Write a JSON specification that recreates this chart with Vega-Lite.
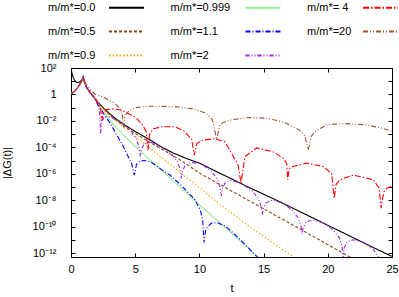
{
  "$schema": "https://vega.github.io/schema/vega-lite/v6.json",
  "width": 321,
  "height": 189,
  "autosize": {"type": "none"},
  "padding": {"left": 71, "top": 68, "right": 7, "bottom": 40},
  "background": "white",
  "config": {
    "view": {"stroke": "black", "strokeWidth": 1},
    "font": "Liberation Sans",
    "axis": {"grid": false, "domain": false, "tickColor": "black", "labelColor": "black", "titleColor": "black", "labelFontSize": 11, "titleFontSize": 11, "titleFontWeight": "normal", "labelFont": "Liberation Sans", "titleFont": "Liberation Sans", "labelFlush": false, "labelOverlap": false}
  },
  "datasets": {
    "d": [
      {"s":"m/m*=0.0","t":0,"y":89.1},{"s":"m/m*=0.0","t":0.08,"y":39.8},{"s":"m/m*=0.0","t":0.16,"y":20},{"s":"m/m*=0.0","t":0.3,"y":11.2},{"s":"m/m*=0.0","t":0.45,"y":7.94},{"s":"m/m*=0.0","t":0.6,"y":7.94},{"s":"m/m*=0.0","t":0.75,"y":10},{"s":"m/m*=0.0","t":0.88,"y":15.8},{"s":"m/m*=0.0","t":0.95,"y":21},{"s":"m/m*=0.0","t":1.05,"y":8.91},{"s":"m/m*=0.0","t":1.2,"y":3.55},{"s":"m/m*=0.0","t":1.5,"y":1.32},{"s":"m/m*=0.0","t":1.8,"y":0.6},{"s":"m/m*=0.0","t":2.1,"y":0.251},{"s":"m/m*=0.0","t":2.65,"y":0.0708},{"s":"m/m*=0.0","t":3,"y":0.0355},{"s":"m/m*=0.0","t":3.5,"y":0.0141},{"s":"m/m*=0.0","t":4,"y":0.00631},{"s":"m/m*=0.0","t":5,"y":0.00158},{"s":"m/m*=0.0","t":6,"y":4.47e-4},{"s":"m/m*=0.0","t":7,"y":1.12e-4},{"s":"m/m*=0.0","t":8,"y":3.55e-5},{"s":"m/m*=0.0","t":9,"y":1.41e-5},{"s":"m/m*=0.0","t":10,"y":6.31e-6},{"s":"m/m*=0.0","t":12,"y":7.08e-7},{"s":"m/m*=0.0","t":14,"y":7.94e-8},{"s":"m/m*=0.0","t":16,"y":1e-8},{"s":"m/m*=0.0","t":18,"y":1.12e-9},{"s":"m/m*=0.0","t":20,"y":1.26e-10},{"s":"m/m*=0.0","t":22,"y":1.41e-11},{"s":"m/m*=0.0","t":24,"y":1.58e-12},{"s":"m/m*=0.0","t":25,"y":5.62e-13},

      {"s":"m/m*=0.5","t":0,"y":1.12},{"s":"m/m*=0.5","t":0.3,"y":1.78},{"s":"m/m*=0.5","t":0.55,"y":3.55},{"s":"m/m*=0.5","t":0.8,"y":8.91},{"s":"m/m*=0.5","t":0.95,"y":21},{"s":"m/m*=0.5","t":1.05,"y":8.91},{"s":"m/m*=0.5","t":1.2,"y":3.55},{"s":"m/m*=0.5","t":1.5,"y":1.32},{"s":"m/m*=0.5","t":1.8,"y":0.6},{"s":"m/m*=0.5","t":2.1,"y":0.251},{"s":"m/m*=0.5","t":2.5,"y":0.1},{"s":"m/m*=0.5","t":3,"y":0.0282},{"s":"m/m*=0.5","t":4,"y":0.00501},{"s":"m/m*=0.5","t":5,"y":0.00112},{"s":"m/m*=0.5","t":6,"y":2.82e-4},{"s":"m/m*=0.5","t":7,"y":7.94e-5},{"s":"m/m*=0.5","t":8.5,"y":1.12e-5},{"s":"m/m*=0.5","t":10,"y":1.12e-6},{"s":"m/m*=0.5","t":12.4,"y":5.62e-8},{"s":"m/m*=0.5","t":15,"y":2.24e-9},{"s":"m/m*=0.5","t":17.5,"y":1e-10},{"s":"m/m*=0.5","t":20.8,"y":1.58e-12},{"s":"m/m*=0.5","t":22,"y":3.55e-13},

      {"s":"m/m*=0.9","t":0,"y":1.12},{"s":"m/m*=0.9","t":0.3,"y":1.78},{"s":"m/m*=0.9","t":0.55,"y":3.55},{"s":"m/m*=0.9","t":0.8,"y":8.91},{"s":"m/m*=0.9","t":0.95,"y":21},{"s":"m/m*=0.9","t":1.05,"y":8.91},{"s":"m/m*=0.9","t":1.2,"y":3.55},{"s":"m/m*=0.9","t":1.5,"y":1.32},{"s":"m/m*=0.9","t":1.8,"y":0.6},{"s":"m/m*=0.9","t":2.1,"y":0.2},{"s":"m/m*=0.9","t":2.5,"y":0.0708},{"s":"m/m*=0.9","t":3,"y":0.0251},{"s":"m/m*=0.9","t":4,"y":0.00398},{"s":"m/m*=0.9","t":5,"y":6.31e-4},{"s":"m/m*=0.9","t":6,"y":1.12e-4},{"s":"m/m*=0.9","t":7,"y":1.78e-5},{"s":"m/m*=0.9","t":8,"y":3.16e-6},{"s":"m/m*=0.9","t":9,"y":5.01e-7},{"s":"m/m*=0.9","t":10,"y":8.91e-8},{"s":"m/m*=0.9","t":11,"y":1.41e-8},{"s":"m/m*=0.9","t":12.4,"y":1.26e-9},{"s":"m/m*=0.9","t":13.5,"y":2e-10},{"s":"m/m*=0.9","t":14.5,"y":3.98e-11},{"s":"m/m*=0.9","t":15.4,"y":1e-11},{"s":"m/m*=0.9","t":16.5,"y":1.78e-12},{"s":"m/m*=0.9","t":17.5,"y":3.98e-13},

      {"s":"m/m*=0.999","t":0,"y":1.12},{"s":"m/m*=0.999","t":0.3,"y":1.78},{"s":"m/m*=0.999","t":0.55,"y":3.55},{"s":"m/m*=0.999","t":0.8,"y":8.91},{"s":"m/m*=0.999","t":0.95,"y":21},{"s":"m/m*=0.999","t":1.05,"y":8.91},{"s":"m/m*=0.999","t":1.2,"y":3.55},{"s":"m/m*=0.999","t":1.5,"y":1.32},{"s":"m/m*=0.999","t":1.8,"y":0.6},{"s":"m/m*=0.999","t":2.1,"y":0.178},{"s":"m/m*=0.999","t":2.5,"y":0.0501},{"s":"m/m*=0.999","t":3,"y":0.0126},{"s":"m/m*=0.999","t":3.5,"y":0.00316},{"s":"m/m*=0.999","t":5,"y":1.12e-4},{"s":"m/m*=0.999","t":7,"y":2e-6},{"s":"m/m*=0.999","t":9,"y":3.55e-8},{"s":"m/m*=0.999","t":10,"y":4.47e-9},{"s":"m/m*=0.999","t":12.4,"y":3.98e-11},{"s":"m/m*=0.999","t":14,"y":1.58e-12},{"s":"m/m*=0.999","t":14.7,"y":3.98e-13},

      {"s":"m/m*=1.1","t":0,"y":1.12},{"s":"m/m*=1.1","t":0.3,"y":1.78},{"s":"m/m*=1.1","t":0.55,"y":3.55},{"s":"m/m*=1.1","t":0.8,"y":8.91},{"s":"m/m*=1.1","t":0.95,"y":21},{"s":"m/m*=1.1","t":1.05,"y":8.91},{"s":"m/m*=1.1","t":1.2,"y":3.55},{"s":"m/m*=1.1","t":1.5,"y":1.32},{"s":"m/m*=1.1","t":1.8,"y":0.6},{"s":"m/m*=1.1","t":2.1,"y":0.158},{"s":"m/m*=1.1","t":2.5,"y":0.0398},{"s":"m/m*=1.1","t":3,"y":0.00794},{"s":"m/m*=1.1","t":3.5,"y":0.00112},{"s":"m/m*=1.1","t":4,"y":1.58e-4},{"s":"m/m*=1.1","t":4.4,"y":2.51e-5},{"s":"m/m*=1.1","t":4.7,"y":7.08e-6},{"s":"m/m*=1.1","t":4.93,"y":7.94e-7},{"s":"m/m*=1.1","t":5.1,"y":5.01e-6},{"s":"m/m*=1.1","t":5.35,"y":8.91e-6},{"s":"m/m*=1.1","t":5.7,"y":1e-5},{"s":"m/m*=1.1","t":6.2,"y":7.94e-6},{"s":"m/m*=1.1","t":7,"y":2.24e-6},{"s":"m/m*=1.1","t":7.7,"y":7.94e-7},{"s":"m/m*=1.1","t":8.6,"y":1.26e-7},{"s":"m/m*=1.1","t":9.6,"y":1.26e-8},{"s":"m/m*=1.1","t":10.05,"y":2e-9},{"s":"m/m*=1.1","t":10.25,"y":3.98e-10},{"s":"m/m*=1.1","t":10.36,"y":6.31e-12},{"s":"m/m*=1.1","t":10.5,"y":6.31e-11},{"s":"m/m*=1.1","t":10.9,"y":1.78e-10},{"s":"m/m*=1.1","t":11.4,"y":2e-10},{"s":"m/m*=1.1","t":12,"y":1.12e-10},{"s":"m/m*=1.1","t":12.6,"y":3.55e-11},{"s":"m/m*=1.1","t":13.3,"y":7.94e-12},{"s":"m/m*=1.1","t":13.95,"y":1.78e-12},{"s":"m/m*=1.1","t":14.6,"y":3.98e-13},

      {"s":"m/m*=2","t":0,"y":1.12},{"s":"m/m*=2","t":0.3,"y":1.78},{"s":"m/m*=2","t":0.55,"y":3.55},{"s":"m/m*=2","t":0.8,"y":8.91},{"s":"m/m*=2","t":0.95,"y":21},{"s":"m/m*=2","t":1.05,"y":8.91},{"s":"m/m*=2","t":1.2,"y":3.55},{"s":"m/m*=2","t":1.5,"y":1.32},{"s":"m/m*=2","t":1.8,"y":0.6},{"s":"m/m*=2","t":2,"y":0.282},{"s":"m/m*=2","t":2.15,"y":0.112},{"s":"m/m*=2","t":2.25,"y":0.0251},{"s":"m/m*=2","t":2.3,"y":0.001},{"s":"m/m*=2","t":2.38,"y":0.00891},{"s":"m/m*=2","t":2.6,"y":0.02},{"s":"m/m*=2","t":3.08,"y":0.02},{"s":"m/m*=2","t":3.85,"y":0.00794},{"s":"m/m*=2","t":4.62,"y":0.002},{"s":"m/m*=2","t":5.1,"y":3.98e-4},{"s":"m/m*=2","t":5.32,"y":7.94e-5},{"s":"m/m*=2","t":5.4,"y":2e-5},{"s":"m/m*=2","t":5.48,"y":7.08e-5},{"s":"m/m*=2","t":5.7,"y":1.78e-4},{"s":"m/m*=2","t":6.18,"y":2.51e-4},{"s":"m/m*=2","t":7,"y":1.12e-4},{"s":"m/m*=2","t":7.82,"y":3.16e-5},{"s":"m/m*=2","t":8.3,"y":7.94e-6},{"s":"m/m*=2","t":8.52,"y":1.78e-6},{"s":"m/m*=2","t":8.6,"y":4.47e-7},{"s":"m/m*=2","t":8.68,"y":1.58e-6},{"s":"m/m*=2","t":8.9,"y":4.47e-6},{"s":"m/m*=2","t":9.38,"y":7.08e-6},{"s":"m/m*=2","t":10.15,"y":5.62e-6},{"s":"m/m*=2","t":10.92,"y":1.58e-6},{"s":"m/m*=2","t":11.4,"y":3.98e-7},{"s":"m/m*=2","t":11.62,"y":8.91e-8},{"s":"m/m*=2","t":11.7,"y":2e-8},{"s":"m/m*=2","t":11.78,"y":7.08e-8},{"s":"m/m*=2","t":12,"y":2e-7},{"s":"m/m*=2","t":12.48,"y":3.16e-7},{"s":"m/m*=2","t":13.3,"y":1.78e-7},{"s":"m/m*=2","t":14.12,"y":5.01e-8},{"s":"m/m*=2","t":14.6,"y":1.26e-8},{"s":"m/m*=2","t":14.82,"y":2.82e-9},{"s":"m/m*=2","t":14.9,"y":7.94e-10},{"s":"m/m*=2","t":14.98,"y":2.24e-9},{"s":"m/m*=2","t":15.2,"y":6.31e-9},{"s":"m/m*=2","t":15.68,"y":1e-8},{"s":"m/m*=2","t":16.45,"y":6.31e-9},{"s":"m/m*=2","t":17.22,"y":1.78e-9},{"s":"m/m*=2","t":17.7,"y":4.47e-10},{"s":"m/m*=2","t":17.92,"y":1e-10},{"s":"m/m*=2","t":18,"y":2.51e-11},{"s":"m/m*=2","t":18.08,"y":7.94e-11},{"s":"m/m*=2","t":18.3,"y":2.24e-10},{"s":"m/m*=2","t":18.78,"y":3.16e-10},{"s":"m/m*=2","t":19.6,"y":2e-10},{"s":"m/m*=2","t":20.42,"y":5.62e-11},{"s":"m/m*=2","t":20.9,"y":1.41e-11},{"s":"m/m*=2","t":21.12,"y":2.82e-12},{"s":"m/m*=2","t":21.2,"y":3.16e-13},{"s":"m/m*=2","t":21.28,"y":2.51e-12},{"s":"m/m*=2","t":21.5,"y":7.08e-12},{"s":"m/m*=2","t":21.98,"y":1e-11},{"s":"m/m*=2","t":22.75,"y":7.08e-12},{"s":"m/m*=2","t":23.52,"y":2e-12},{"s":"m/m*=2","t":24,"y":4.47e-13},{"s":"m/m*=2","t":24.22,"y":1e-13},

      {"s":"m/m*= 4","t":0,"y":1.12},{"s":"m/m*= 4","t":0.3,"y":1.78},{"s":"m/m*= 4","t":0.55,"y":3.55},{"s":"m/m*= 4","t":0.8,"y":8.91},{"s":"m/m*= 4","t":0.95,"y":21},{"s":"m/m*= 4","t":1.05,"y":8.91},{"s":"m/m*= 4","t":1.2,"y":3.55},{"s":"m/m*= 4","t":1.5,"y":1.32},{"s":"m/m*= 4","t":1.8,"y":0.6},{"s":"m/m*= 4","t":2.1,"y":0.224},{"s":"m/m*= 4","t":2.3,"y":0.0891},{"s":"m/m*= 4","t":2.4,"y":0.01},{"s":"m/m*= 4","t":2.5,"y":0.0398},{"s":"m/m*= 4","t":2.78,"y":0.0708},{"s":"m/m*= 4","t":3.3,"y":0.0794},{"s":"m/m*= 4","t":3.95,"y":0.0631},{"s":"m/m*= 4","t":4.98,"y":0.02},{"s":"m/m*= 4","t":5.5,"y":0.00631},{"s":"m/m*= 4","t":5.85,"y":0.00158},{"s":"m/m*= 4","t":6,"y":6.31e-5},{"s":"m/m*= 4","t":6.12,"y":0.001},{"s":"m/m*= 4","t":6.4,"y":0.00251},{"s":"m/m*= 4","t":7.06,"y":0.00355},{"s":"m/m*= 4","t":8.1,"y":0.00355},{"s":"m/m*= 4","t":8.8,"y":0.00178},{"s":"m/m*= 4","t":9.4,"y":3.98e-4},{"s":"m/m*= 4","t":9.6,"y":2.51e-5},{"s":"m/m*= 4","t":9.8,"y":2e-4},{"s":"m/m*= 4","t":10.3,"y":3.55e-4},{"s":"m/m*= 4","t":11.2,"y":4.47e-4},{"s":"m/m*= 4","t":12,"y":2.51e-4},{"s":"m/m*= 4","t":12.64,"y":2e-5},{"s":"m/m*= 4","t":13,"y":5.01e-6},{"s":"m/m*= 4","t":13.24,"y":2e-7},{"s":"m/m*= 4","t":13.55,"y":2e-5},{"s":"m/m*= 4","t":14.46,"y":8.91e-5},{"s":"m/m*= 4","t":15.76,"y":4.47e-5},{"s":"m/m*= 4","t":16.5,"y":1.58e-5},{"s":"m/m*= 4","t":16.8,"y":6.31e-6},{"s":"m/m*= 4","t":16.88,"y":3.55e-7},{"s":"m/m*= 4","t":17,"y":2.51e-6},{"s":"m/m*= 4","t":17.3,"y":3.55e-6},{"s":"m/m*= 4","t":18.36,"y":6.31e-6},{"s":"m/m*= 4","t":19.65,"y":3.55e-6},{"s":"m/m*= 4","t":20.3,"y":1e-6},{"s":"m/m*= 4","t":20.5,"y":1.41e-8},{"s":"m/m*= 4","t":20.65,"y":1.58e-7},{"s":"m/m*= 4","t":20.95,"y":3.55e-7},{"s":"m/m*= 4","t":21.99,"y":7.94e-7},{"s":"m/m*= 4","t":23.54,"y":3.55e-7},{"s":"m/m*= 4","t":24,"y":7.94e-8},{"s":"m/m*= 4","t":24.15,"y":2.51e-9},{"s":"m/m*= 4","t":24.35,"y":3.98e-8},{"s":"m/m*= 4","t":24.6,"y":7.94e-8},{"s":"m/m*= 4","t":25,"y":1.12e-7},

      {"s":"m/m*=20","t":0,"y":1.12},{"s":"m/m*=20","t":0.3,"y":1.78},{"s":"m/m*=20","t":0.55,"y":3.55},{"s":"m/m*=20","t":0.8,"y":8.91},{"s":"m/m*=20","t":0.95,"y":21},{"s":"m/m*=20","t":1.05,"y":10},{"s":"m/m*=20","t":1.2,"y":5.62},{"s":"m/m*=20","t":1.5,"y":2.24},{"s":"m/m*=20","t":1.9,"y":1},{"s":"m/m*=20","t":2.4,"y":0.708},{"s":"m/m*=20","t":3,"y":0.355},{"s":"m/m*=20","t":3.5,"y":0.178},{"s":"m/m*=20","t":3.8,"y":0.0891},{"s":"m/m*=20","t":4,"y":0.0316},{"s":"m/m*=20","t":4.1,"y":0.00316},{"s":"m/m*=20","t":4.2,"y":0.0251},{"s":"m/m*=20","t":4.5,"y":0.0562},{"s":"m/m*=20","t":5,"y":0.1},{"s":"m/m*=20","t":6,"y":0.126},{"s":"m/m*=20","t":7,"y":0.126},{"s":"m/m*=20","t":8.4,"y":0.112},{"s":"m/m*=20","t":9.5,"y":0.0794},{"s":"m/m*=20","t":10.5,"y":0.0398},{"s":"m/m*=20","t":11,"y":0.0126},{"s":"m/m*=20","t":11.35,"y":3.98e-4},{"s":"m/m*=20","t":11.6,"y":0.00501},{"s":"m/m*=20","t":11.9,"y":0.00794},{"s":"m/m*=20","t":12.6,"y":0.0126},{"s":"m/m*=20","t":13.9,"y":0.0178},{"s":"m/m*=20","t":15.2,"y":0.0158},{"s":"m/m*=20","t":16.2,"y":0.01},{"s":"m/m*=20","t":16.8,"y":0.00631},{"s":"m/m*=20","t":17.8,"y":0.002},{"s":"m/m*=20","t":18.2,"y":7.94e-4},{"s":"m/m*=20","t":18.48,"y":6.31e-5},{"s":"m/m*=20","t":18.7,"y":6.31e-4},{"s":"m/m*=20","t":19,"y":0.00158},{"s":"m/m*=20","t":19.9,"y":0.00501},{"s":"m/m*=20","t":21.2,"y":0.00631},{"s":"m/m*=20","t":23,"y":0.00501},{"s":"m/m*=20","t":24.2,"y":0.00282},{"s":"m/m*=20","t":25,"y":0.00158}
    ]
  },
  "data": {"name": "d"},
  "layer": [
    {
      "mark": {"type": "line", "clip": true, "strokeWidth": 1.1},
      "encoding": {
        "x": {"field": "t", "type": "quantitative", "scale": {"domain": [0, 25], "nice": false, "zero": false},
          "axis": {"orient": "bottom", "values": [0, 5, 10, 15, 20, 25], "tickSize": -4, "labelPadding": 10, "title": "t", "titlePadding": 8}},
        "y": {"field": "y", "type": "quantitative", "scale": {"type": "log", "domain": [5.01e-13, 100], "nice": false},
          "axis": {"orient": "left", "values": [100, 10, 1, 0.1, 0.01, 0.001, 1e-4, 1e-5, 1e-6, 1e-7, 1e-8, 1e-9, 1e-10, 1e-11, 1e-12], "tickSize": -4, "labelPadding": 19, "title": "|ΔG(t)|", "titlePadding": 20,
            "labelExpr": "(round(log(datum.value)/LN10) % 2 != 0) ? '' : round(log(datum.value)/LN10) == 0 ? '1' : '10' + replace(replace(replace(replace(replace(replace(replace('' + round(log(datum.value)/LN10), '-', '⁻'), '2', '²'), '4', '⁴'), '6', '⁶'), '8', '⁸'), '1', '¹'), '0', '⁰')"}},
        "color": {"field": "s", "type": "nominal",
          "scale": {"domain": ["m/m*=0.0", "m/m*=0.5", "m/m*=0.9", "m/m*=0.999", "m/m*=1.1", "m/m*=2", "m/m*= 4", "m/m*=20"],
                    "range": ["#000000", "#8b4513", "#ffa500", "#90ee90", "#0000ff", "#a020f0", "#ff0000", "#a0522d"]},
          "legend": {"orient": "none", "legendX": 37, "legendY": -79, "columns": 3, "gridAlign": "each", "symbolType": "stroke", "symbolSize": 1225, "symbolStrokeWidth": 1.2, "labelFontSize": 11, "labelFont": "Liberation Sans", "labelColor": "black", "labelOffset": -97, "columnPadding": 22.5, "rowPadding": -10.5, "title": null, "padding": 0,
            "encode": {
              "labels": {"update": {"dx": {"signal": "indexof(['m/m*=0.999','m/m*=1.1','m/m*=2'], datum.label) >= 0 ? -14 : (indexof(['m/m*= 4','m/m*=20'], datum.label) >= 0 ? 5 : 0)"}}},
              "symbols": {"update": {"stroke": {"signal": "scale('color', datum.value)"}, "strokeWidth": {"value": 1.8}, "strokeOpacity": {"value": 1}, "opacity": {"value": 1}, "strokeDash": {"signal": "scale('strokeDash', datum.value)"}}}
            }}},
        "strokeDash": {"field": "s", "type": "nominal",
          "scale": {"domain": ["m/m*=0.0", "m/m*=0.5", "m/m*=0.9", "m/m*=0.999", "m/m*=1.1", "m/m*=2", "m/m*= 4", "m/m*=20"],
                    "range": [[1, 0], [3, 2], [1.5, 2], [1, 0], [5, 2, 1, 2], [4, 2, 1, 2, 1, 2], [6, 2, 1.5, 2], [5, 2, 1, 2, 1, 2]]},
          "legend": null},
        "strokeWidth": {"condition": {"test": "datum.s === 'm/m*=0.0'", "value": 1.6}, "value": 1.1}
      }
    },
    {
      "mark": {"type": "point", "opacity": 0},
      "encoding": {
        "x": {"field": "t", "type": "quantitative", "scale": {"domain": [0, 25], "nice": false, "zero": false},
          "axis": {"orient": "top", "values": [0, 5, 10, 15, 20, 25], "tickSize": -4, "labels": false, "title": null}},
        "y": {"field": "y", "type": "quantitative", "scale": {"type": "log", "domain": [5.01e-13, 100], "nice": false},
          "axis": {"orient": "right", "values": [100, 10, 1, 0.1, 0.01, 0.001, 1e-4, 1e-5, 1e-6, 1e-7, 1e-8, 1e-9, 1e-10, 1e-11, 1e-12], "tickSize": -4, "labels": false, "title": null}}
      }
    }
  ],
  "resolve": {"axis": {"x": "independent", "y": "independent"}}
}
